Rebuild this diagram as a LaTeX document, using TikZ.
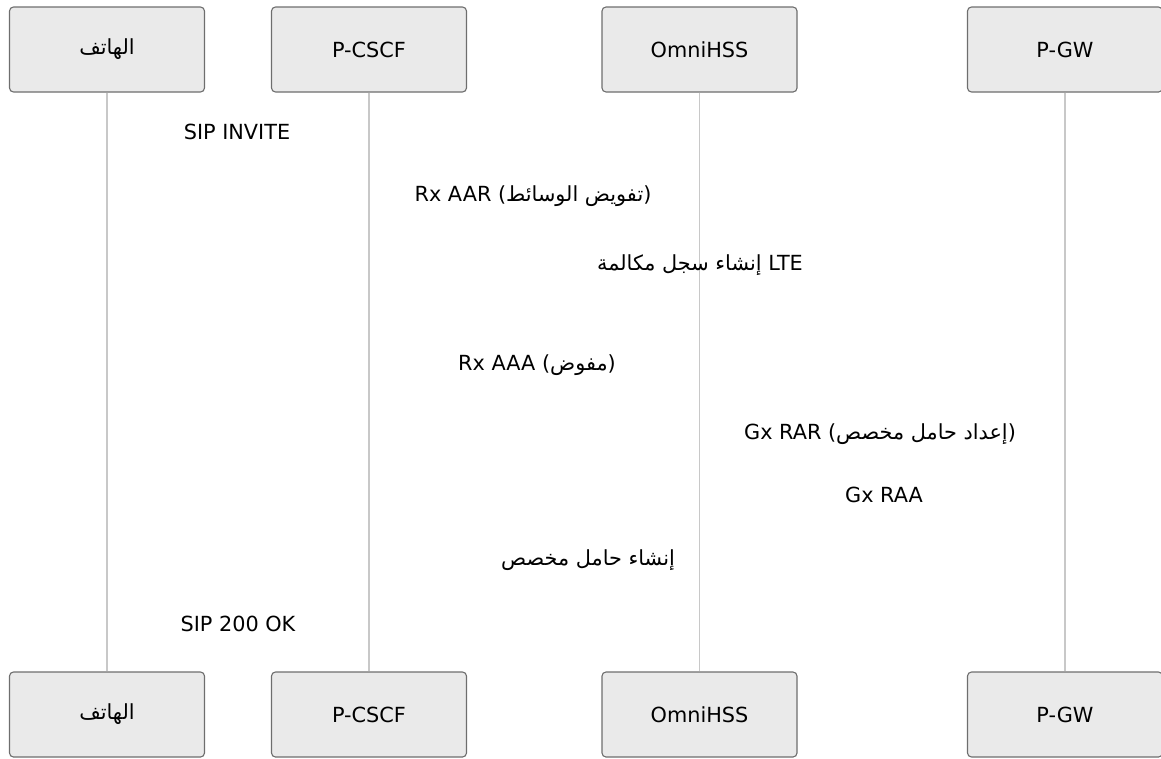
\documentclass[tikz,border=0pt]{standalone}
\usepackage{fontspec}
\setmainfont{DejaVu Sans}
\newfontfamily\arabicfont[Script=Arabic]{DejaVu Sans}
\TeXXeTstate=1
\usetikzlibrary{positioning}
\definecolor{fondoActor}{HTML}{EAEAEA}
\definecolor{bordeActor}{HTML}{6E6E6E}
\definecolor{lineaVida}{HTML}{C8C8C8}

\begin{document}
\begin{tikzpicture}[
        x=1pt, y=-1pt,
        actor/.style={draw=bordeActor, fill=fondoActor, line width=1.1pt, rounded corners=4pt,
            minimum width=195pt, minimum height=85pt, font=\fontsize{20.8}{24}\selectfont},
        vida/.style={draw=lineaVida, line width=1.3pt},
        msg/.style={anchor=base, inner sep=0pt, font=\fontsize{20.8}{24}\selectfont}
    ]
        \useasboundingbox (0,0) rectangle (1161,758);

        % actores arriba
        \node[actor] (telA) at (107,49.5) {\arabicfont\beginR الهاتف\endR};
        \node[actor] (pcscfA) at (369,49.5) {P-CSCF};
        \node[actor] (hssA) at (699.5,49.5) {OmniHSS};
        \node[actor] (pgwA) at (1065,49.5) {P-GW};
        % actores abajo
        \node[actor] (telB) at (107,714.5) {\arabicfont\beginR الهاتف\endR};
        \node[actor] (pcscfB) at (369,714.5) {P-CSCF};
        \node[actor] (hssB) at (699.5,714.5) {OmniHSS};
        \node[actor] (pgwB) at (1065,714.5) {P-GW};

        \draw[vida] (telA) -- (telB);
        \draw[vida] (pcscfA) -- (pcscfB);
        \draw[vida] (hssA) -- (hssB);
        \draw[vida] (pgwA) -- (pgwB);

        % mensajes
        \node[msg] (sipInvite) at (237,139) {SIP INVITE};
        \node[msg] (rxAar) at (533,201) {Rx AAR ({\arabicfont\beginR تفويض الوسائط\endR})};
        \node[msg] (lteCdr) at (700,270) {{\arabicfont\beginR إنشاء سجل مكالمة\endR} LTE};
        \node[msg] (rxAaa) at (537,370) {Rx AAA ({\arabicfont\beginR مفوض\endR})};
        \node[msg] (gxRar) at (880,439) {Gx RAR ({\arabicfont\beginR إعداد حامل مخصص\endR})};
        \node[msg] (gxRaa) at (884,502) {Gx RAA};
        \node[msg] (portador) at (588,565) {\arabicfont\beginR إنشاء حامل مخصص\endR};
        \node[msg] (sipOk) at (238,631) {SIP 200 OK};
    \end{tikzpicture}
\end{document}
